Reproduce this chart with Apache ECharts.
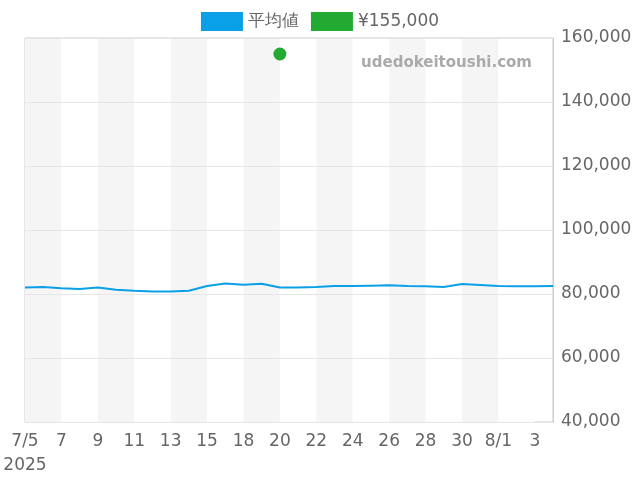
<!DOCTYPE html>
<html><head><meta charset="utf-8">
<script src="https://cdn.jsdelivr.net/npm/echarts@6/dist/echarts.min.js"></script>
<style>body{margin:0}#c{width:640px;height:480px}</style></head>
<body><div id="c"></div>
<script>
var categories=['7/5','7/6','7/7','7/8','7/9','7/10','7/11','7/12','7/13','7/14','7/15','7/16','7/18','7/19','7/20','7/21','7/22','7/23','7/24','7/25','7/26','7/27','7/28','7/29','7/30','7/31','8/1','8/2','8/3','8/4'];
var avgValues=[82000,82200,81800,81600,82000,81300,81000,80800,80800,81000,82500,83300,82900,83200,82000,82000,82200,82500,82500,82600,82700,82500,82400,82200,83100,82800,82500,82400,82400,82500];
var pointCategory='7/20', pointValue=155000;
var chart=echarts.init(document.getElementById('c'));
chart.setOption({
 animation:false,
 legend:{top:7,left:'center',itemWidth:42,itemHeight:19,itemGap:12,textStyle:{fontSize:17,color:'#666',fontFamily:'DejaVu Sans'},
   data:[{name:'平均値',icon:'rect'},{name:'¥155,000',icon:'rect'}]},
 grid:{left:25,right:87,top:38,bottom:58,show:true,borderColor:'#ccc',borderWidth:1,backgroundColor:'transparent'},
 graphic:[{type:'text',right:108,top:56,z:100,style:{text:'udedokeitoushi.com',fill:'#aaa',font:'bold 15px DejaVu Sans'}}],
 xAxis:{type:'category',data:categories,boundaryGap:false,z:0,
   axisLine:{lineStyle:{color:'#ccc'}},axisTick:{show:false},
   splitArea:{show:true,interval:1,areaStyle:{color:['#f5f5f5','#ffffff']}},
   axisLabel:{interval:1,color:'#666',fontSize:17,fontFamily:'DejaVu Sans',margin:8,lineHeight:24,
     formatter:function(v,i){var p=v.split('/');if(i===0)return v+'\n2025';if(p[1]==='1')return v;return p[1];}}},
 yAxis:{type:'value',position:'right',min:40000,max:160000,interval:20000,z:1,
   axisLine:{show:true,lineStyle:{color:'#ccc'}},axisTick:{show:false},
   splitLine:{lineStyle:{color:'#e6e6e6'}},
   axisLabel:{color:'#666',fontSize:17,fontFamily:'DejaVu Sans',margin:8,formatter:function(v){return v.toLocaleString('en-US');}}},
 series:[
  {name:'平均値',type:'line',data:avgValues,showSymbol:false,z:5,itemStyle:{color:'#0aa0e8'},lineStyle:{width:2,color:'#0aa0e8'}},
  {name:'¥155,000',type:'scatter',data:[[pointCategory,pointValue]],symbolSize:13,z:5,itemStyle:{color:'#22aa33',opacity:1}}
 ]
});
</script></body></html>
